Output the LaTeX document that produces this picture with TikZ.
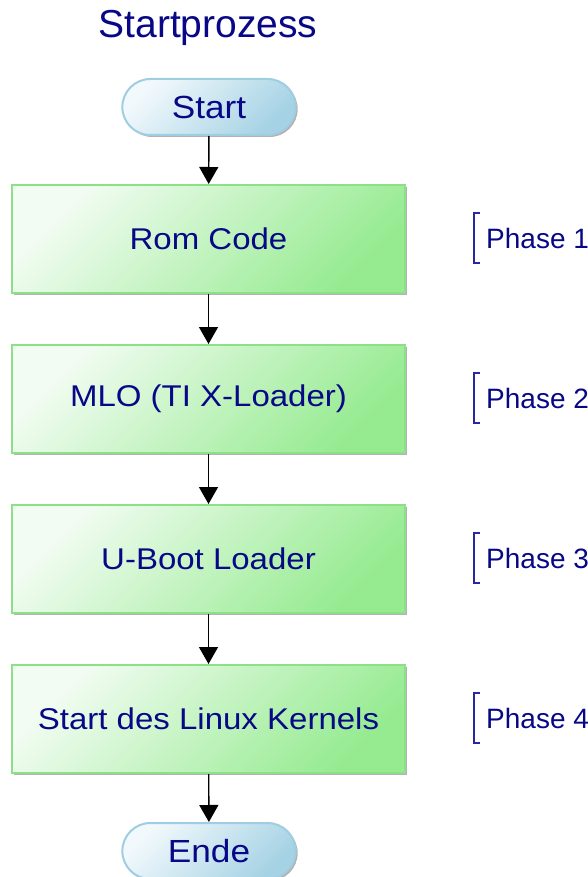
\documentclass[tikz,border=0pt]{standalone}
\usepackage{fontspec}
\setmainfont{Liberation Sans}
\newfontfamily\boxfont[FakeStretch=1.1]{Liberation Sans}
\usetikzlibrary{arrows.meta,shapes.misc,shadows}

\definecolor{textblue}{RGB}{8,8,135}
\definecolor{bracketblue}{RGB}{40,40,160}
\definecolor{greenline}{RGB}{140,225,135}
\definecolor{greenlight}{RGB}{242,252,242}
\definecolor{greendark}{RGB}{150,235,145}
\definecolor{blueline}{RGB}{160,205,225}
\definecolor{bluelight}{RGB}{242,249,252}
\definecolor{bluedark}{RGB}{165,210,228}

\tikzset{
  stepbox/.style={rectangle, draw=greenline, line width=2pt,
    top color=greenlight, bottom color=greendark, shading angle=45,
    minimum width=393pt, minimum height=108pt, text=textblue,
    font=\boxfont\fontsize{30}{36}\selectfont,
    drop shadow={shadow xshift=2pt, shadow yshift=-2pt, fill=black!50, opacity=.6}},
  terminal/.style={rounded rectangle, draw=blueline, line width=2pt,
    top color=bluelight, bottom color=bluedark, shading angle=45,
    minimum width=180pt, minimum height=56pt, text=textblue,
    font=\boxfont\fontsize{32}{38}\selectfont,
    drop shadow={shadow xshift=2pt, shadow yshift=-2pt, fill=black!50, opacity=.6}},
  phase/.style={anchor=west, minimum height=50pt, inner xsep=12pt, inner ysep=0pt,
    text=textblue, font=\fontsize{28}{32}\selectfont},
  flow/.style={line width=1.4pt, -{Triangle[width=19pt,length=17pt]}}
}

\begin{document}
\begin{tikzpicture}[x=1pt, y=-1pt]
  \useasboundingbox (0,0) rectangle (588,877);

  % Title
  \node[text=textblue, font=\fontsize{39}{44}\selectfont] (title) at (208,28) {Startprozess};

  % Flow chart
  \node[terminal] (start) at (209,107) {Start};
  \node[stepbox] (rom) at (208.5,239) {Rom Code};
  \node[stepbox] (mlo) at (208.5,399) {MLO (TI X-Loader)};
  \node[stepbox] (uboot) at (208.5,559) {U-Boot Loader};
  \node[stepbox] (kernel) at (208.5,719) {Start des Linux Kernels};
  \node[terminal] (ende) at (209,851) {Ende};

  \draw[flow] (start) -- (rom);
  \draw[flow] (rom) -- (mlo);
  \draw[flow] (mlo) -- (uboot);
  \draw[flow] (uboot) -- (kernel);
  \draw[flow] (kernel) -- (ende);

  % Phases with brackets
  \foreach \i/\y in {1/238,2/398,3/558,4/718} {
    \node[phase] (ph\i) at (474,\y) {Phase \i};
    \draw[bracketblue, line width=1.5pt] ([xshift=6pt]ph\i.north west) -- (ph\i.north west)
      -- (ph\i.south west) -- ([xshift=6pt]ph\i.south west);
  }
\end{tikzpicture}
\end{document}
